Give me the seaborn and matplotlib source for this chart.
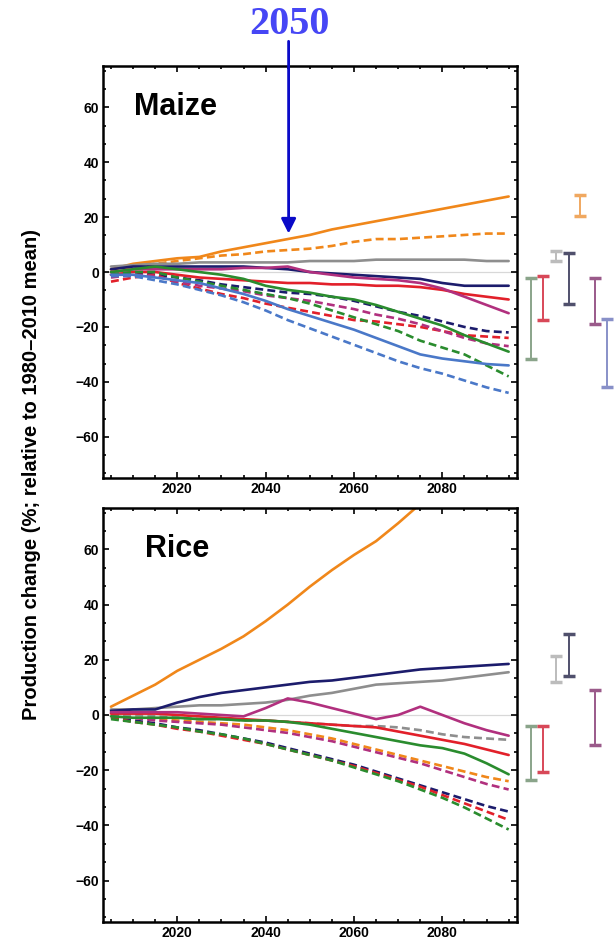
import numpy as np
import pandas as pd
import matplotlib.pyplot as plt
import seaborn as sns
from matplotlib.ticker import MultipleLocator, AutoMinorLocator

sns.set_style('ticks')
plt.rcParams['font.family'] = ['Liberation Sans', 'DejaVu Sans']
plt.rcParams['text.color'] = 'black'
plt.rcParams['axes.edgecolor'] = 'black'
plt.rcParams['xtick.color'] = 'black'
plt.rcParams['ytick.color'] = 'black'

years = list(range(2005, 2096, 5))
models = ['orange', 'gray', 'navy', 'red', 'magenta', 'green', 'blue']

# maize, solid lines
mz_orange = [1, 3, 4, 5, 5.5, 7.5, 9, 10.5, 12, 13.5, 15.5, 17, 18.5, 20, 21.5, 23, 24.5, 26, 27.5]
mz_gray = [2, 2.5, 3, 3, 3.5, 3.5, 3.5, 3.5, 3.5, 4, 4, 4, 4.5, 4.5, 4.5, 4.5, 4.5, 4, 4]
mz_navy = [1, 2, 2, 2, 2, 2, 2, 1.5, 1, 0, -0.5, -1, -1.5, -2, -2.5, -4, -5, -5, -5]
mz_red = [-1, 0, 0, -1, -2, -2.5, -3, -3.5, -4, -4, -4.5, -4.5, -5, -5, -5.5, -6.5, -8, -9, -10]
mz_magenta = [0, 1, 1, 1, 1, 1, 1.5, 1.5, 2, 0, -1, -2, -2.5, -3, -4, -6, -9, -12, -15]
mz_green = [0, 1, 2, 1, 0, -1, -2.5, -5, -6.5, -7.5, -9, -10, -12, -14.5, -17, -19.5, -23, -26, -29]
mz_blue = [-1, -1, -2, -3, -4, -6, -8, -10.5, -13.5, -16, -18.5, -21, -24, -27, -30, -31.5, -32.5, -33.5, -34]
# maize, dashed lines
mz_orange_d = [0, 2, 3, 4, 5, 6, 6.5, 7.5, 8, 8.5, 9.5, 11, 12, 12, 12.5, 13, 13.5, 14, 14]
mz_navy_d = [-1, 0, -1, -2, -3, -4.5, -5.5, -6.5, -7.5, -8, -9, -10.5, -12.5, -14.5, -16, -18, -20, -21.5, -22]
mz_red_d = [-3.5, -2, -1, -4, -6, -8, -9.5, -11.5, -13, -14.5, -16, -17.5, -18, -19, -20, -21.5, -23, -23.5, -24]
mz_magenta_d = [-2, -1, -1.5, -3.5, -5, -6, -7, -8.5, -9.5, -10.5, -12, -13.5, -15.5, -17, -19, -21.5, -24, -26, -27]
mz_green_d = [-1, 0, 0, -2, -3.5, -5, -6.5, -8, -9.5, -11.5, -14, -16.5, -19, -21.5, -25, -27.5, -30, -34, -38]
mz_blue_d = [-1.5, -1.5, -3, -4.5, -6.5, -8.5, -11, -14, -17.5, -20.5, -23.5, -26.5, -29.5, -32.5, -35, -37, -39.5, -42, -44]

# rice, solid lines
rc_orange = [3, 7, 11, 16, 20, 24, 28.5, 34, 40, 46.5, 52.5, 58, 63, 69.5, 76.5, 83, 89, 95, 101]
rc_gray = [2, 2, 2.5, 3, 3.5, 3.5, 4, 4.5, 5.5, 7, 8, 9.5, 11, 11.5, 12, 12.5, 13.5, 14.5, 15.5]
rc_navy = [1.5, 2, 2, 4.5, 6.5, 8, 9, 10, 11, 12, 12.5, 13.5, 14.5, 15.5, 16.5, 17, 17.5, 18, 18.5]
rc_red = [0.5, 0.5, 0.5, 0, -0.5, -1, -1.5, -2, -2.5, -3, -3.5, -4, -4.5, -6, -7.5, -9, -10.5, -12.5, -14.5]
rc_magenta = [1, 1, 1, 1, 0.5, 0, -0.5, 2.5, 6, 4.5, 2.5, 0.5, -1.5, 0, 3, 0, -3, -5.5, -7.5]
rc_green = [-0.5, -1, -1, -1, -1.5, -1.5, -2, -2, -2.5, -3.5, -5, -6.5, -8, -9.5, -11, -12, -14, -17.5, -21.5]
# rice, dashed lines
rc_orange_d = [-0.5, -1, -1.5, -2, -2.5, -3, -3.5, -4.5, -5.5, -7, -8.5, -10.5, -12.5, -14.5, -16.5, -18.5, -20.5, -22.5, -24]
rc_gray_d = [0, 0, -0.5, -1, -1.5, -1.5, -2, -2, -2.5, -3, -3.5, -4, -4, -4.5, -5.5, -7, -8, -8.5, -9]
rc_navy_d = [-1, -2, -3, -4.5, -5.5, -7, -8.5, -10, -12, -14, -16, -18, -20.5, -23, -25.5, -28, -30.5, -33, -35]
rc_red_d = [-1, -2.5, -3.5, -5, -6, -7.5, -9, -10.5, -12.5, -14.5, -16.5, -18.5, -21, -23.5, -26, -29, -32, -35, -38]
rc_magenta_d = [-0.5, -1, -2, -2.5, -3, -3.5, -4.5, -5.5, -6.5, -8, -9.5, -11.5, -13.5, -15.5, -17.5, -20, -22.5, -25, -27]
rc_green_d = [-1.5, -2.5, -3.5, -4.5, -6, -7, -8.5, -10.5, -12.5, -14.5, -16.5, -19, -21.5, -24, -27, -30, -33.5, -37.5, -41.5]

maize = {
    ('orange', 'a'): mz_orange, ('gray', 'a'): mz_gray, ('navy', 'a'): mz_navy,
    ('red', 'a'): mz_red, ('magenta', 'a'): mz_magenta, ('green', 'a'): mz_green,
    ('blue', 'a'): mz_blue,
    ('orange', 'b'): mz_orange_d, ('navy', 'b'): mz_navy_d, ('red', 'b'): mz_red_d,
    ('magenta', 'b'): mz_magenta_d, ('green', 'b'): mz_green_d, ('blue', 'b'): mz_blue_d,
}
rice = {
    ('orange', 'a'): rc_orange, ('gray', 'a'): rc_gray, ('navy', 'a'): rc_navy,
    ('red', 'a'): rc_red, ('magenta', 'a'): rc_magenta, ('green', 'a'): rc_green,
    ('orange', 'b'): rc_orange_d, ('gray', 'b'): rc_gray_d, ('navy', 'b'): rc_navy_d,
    ('red', 'b'): rc_red_d, ('magenta', 'b'): rc_magenta_d, ('green', 'b'): rc_green_d,
}

# uncertainty ranges at the right of each panel
mz_bar_models = ['green', 'red', 'gray', 'navy', 'orange', 'magenta', 'blue']
mz_bar_lo = [-31.5, -17.5, 4, -11.5, 20.5, -19, -42]
mz_bar_hi = [-2, -1.5, 7.5, 7, 28, -2, -17]
rc_bar_models = ['green', 'red', 'gray', 'navy', 'magenta']
rc_bar_lo = [-23.5, -20.5, 12, 14, -11]
rc_bar_hi = [-4, -4, 21.5, 29.5, 9]

line_colors = {'orange': '#f0871a', 'gray': '#8e8e8e', 'navy': '#1c1c6c', 'red': '#e2202a',
               'magenta': '#b1307e', 'green': '#2a8c2e', 'blue': '#4a78c8'}
bar_colors = {'green': '#8aa48a', 'red': '#d84858', 'gray': '#bcbcbc', 'navy': '#50506c',
              'orange': '#f0a860', 'magenta': '#9a5a8a', 'blue': '#8890c8'}
bar_x = {'green': 2100.0, 'red': 2102.8, 'gray': 2105.7, 'navy': 2108.6,
         'orange': 2111.2, 'magenta': 2114.5, 'blue': 2117.3}


def long_df(d):
    rows = []
    for (m, s), vals in d.items():
        for yr, v in zip(years, vals):
            rows.append({'year': yr, 'value': v, 'model': m, 'scen': s})
    return pd.DataFrame(rows)


fig = plt.figure(figsize=(6.14, 9.46), dpi=100)
ax1 = fig.add_axes([0.1678, 0.4947, 0.6743, 0.4355])
ax2 = fig.add_axes([0.1678, 0.0254, 0.6743, 0.4376])

panels = [(ax1, maize, 'Maize', 0.075, (mz_bar_models, mz_bar_lo, mz_bar_hi)),
          (ax2, rice, 'Rice', 0.101, (rc_bar_models, rc_bar_lo, rc_bar_hi))]

for ax, data, name, tx, bars in panels:
    ax.axhline(0, color='#d8d8d8', lw=0.9, zorder=0)
    df = long_df(data)
    sns.lineplot(data=df, x='year', y='value', hue='model', style='scen',
                 palette=line_colors, dashes={'a': '', 'b': (3, 1.6)},
                 linewidth=1.9, legend=False, ax=ax)
    ax.set_xlim(2003.2, 2096.9)
    ax.set_ylim(-75, 75)
    ax.set_xlabel('')
    ax.set_ylabel('')
    ax.xaxis.set_major_locator(MultipleLocator(20))
    ax.xaxis.set_minor_locator(MultipleLocator(5))
    ax.yaxis.set_major_locator(MultipleLocator(20))
    ax.yaxis.set_minor_locator(AutoMinorLocator(3))
    ax.tick_params(which='both', direction='in', top=True, right=True,
                   labelsize=10, pad=3, width=1.2, colors='black')
    ax.tick_params(which='major', length=4)
    ax.tick_params(which='minor', length=2.5)
    for lab in ax.get_xticklabels() + ax.get_yticklabels():
        lab.set_fontweight('bold')
    for sp in ax.spines.values():
        sp.set_linewidth(1.8)
        sp.set_color('black')
    ax.text(tx, 0.90, name, transform=ax.transAxes, fontsize=22,
            fontweight='bold', va='center', ha='left', color='black')
    for m, lo, hi in zip(*bars):
        ax.plot([bar_x[m], bar_x[m]], [lo, hi], color=bar_colors[m], lw=1.4,
                marker='_', markersize=8, mew=2.5, clip_on=False)

ax1.annotate('', xy=(2045.2, 14), xytext=(2045.2, 84), xycoords='data',
             arrowprops=dict(arrowstyle='-|>', color='#0a0ac8', lw=2,
                             mutation_scale=22, shrinkA=0, shrinkB=0),
             annotation_clip=False)
fig.text(0.4707, 0.9736, '2050', color='#4646f5', fontsize=29, fontweight='bold',
         family='Liberation Serif', ha='center', va='center')

fig.text(0.052, 0.498, 'Production change (%; relative to 1980\u20132010 mean)',
         rotation=90, fontsize=14.5, fontweight='bold', ha='center', va='center',
         color='black')

fig.savefig('out.png', dpi=100)
